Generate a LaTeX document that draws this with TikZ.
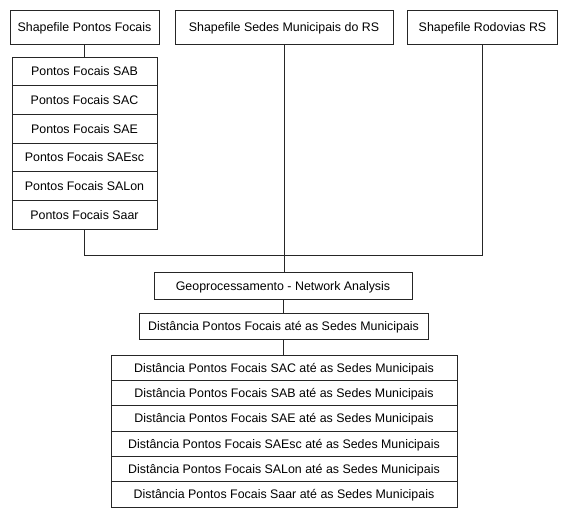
\documentclass[tikz,border=0pt]{standalone}
\usepackage{fontspec}
\setmainfont{Liberation Sans}
\usepackage{tikz}

\tikzset{
	caixa/.style={draw=black!85, line width=0.8pt, rectangle, inner sep=0pt, outer sep=0pt,
		font=\fontsize{12.4}{14}\selectfont, text height=0.92em, text depth=0pt, minimum height=34pt},
	linha/.style={draw=black!85, line width=0.8pt}
}

\begin{document}
\begin{tikzpicture}[x=1pt, y=-1pt]
		\useasboundingbox (0,0) rectangle (588,530);
		% entradas
		\node[caixa, minimum width=149pt] (shpf) at (84.5,27) {Shapefile Pontos Focais};
		\node[caixa, minimum width=218pt] (sedes) at (284,27) {Shapefile Sedes Municipais do RS};
		\node[caixa, minimum width=150pt] (rodov) at (482.5,27) {Shapefile Rodovias RS};
		
		% pontos focais
		\node[caixa, minimum width=145pt, minimum height=28.7pt] (pfa) at (84.5,71.3) {Pontos Focais SAB};
		\node[caixa, minimum width=145pt, minimum height=28.7pt] (pfb) at (84.5,100) {Pontos Focais SAC};
		\node[caixa, minimum width=145pt, minimum height=28.7pt] (pfc) at (84.5,128.7) {Pontos Focais SAE};
		\node[caixa, minimum width=145pt, minimum height=28.7pt] (pfd) at (84.5,157.3) {Pontos Focais SAEsc};
		\node[caixa, minimum width=145pt, minimum height=28.7pt] (pfe) at (84.5,186) {Pontos Focais SALon};
		\node[caixa, minimum width=145pt, minimum height=28.7pt] (pff) at (84.5,214.7) {Pontos Focais Saar};
		
		% processamento
		\node[caixa, minimum width=258pt, minimum height=27pt] (geo) at (283,285.5) {Geoprocessamento - Network Analysis};
		\node[caixa, minimum width=289pt, minimum height=26pt] (dist) at (283.5,326) {Distância Pontos Focais até as Sedes Municipais};
		
		% resultados
		\node[caixa, minimum width=346pt, minimum height=25.3pt] (da) at (284,367.7) {Distância Pontos Focais SAC até as Sedes Municipais};
		\node[caixa, minimum width=346pt, minimum height=25.3pt] (db) at (284,393) {Distância Pontos Focais SAB até as Sedes Municipais};
		\node[caixa, minimum width=346pt, minimum height=25.3pt] (dc) at (284,418.3) {Distância Pontos Focais SAE até as Sedes Municipais};
		\node[caixa, minimum width=346pt, minimum height=25.3pt] (dd) at (284,443.7) {Distância Pontos Focais SAEsc até as Sedes Municipais};
		\node[caixa, minimum width=346pt, minimum height=25.3pt] (de) at (284,469) {Distância Pontos Focais SALon até as Sedes Municipais};
		\node[caixa, minimum width=346pt, minimum height=25.3pt] (df) at (284,494.3) {Distância Pontos Focais Saar até as Sedes Municipais};
		
		% ligacoes
		\draw[linha] (shpf.south) -- (pfa.north);
		\draw[linha] (pff.south) -- ++(0,26) -| (rodov.south);
		\draw[linha] (sedes.south) -- (sedes.south |- geo.north);
		\draw[linha] (geo.south) -- (geo.south |- dist.north);
		\draw[linha] (dist.south) -- (dist.south |- da.north);
\end{tikzpicture}
\end{document}
